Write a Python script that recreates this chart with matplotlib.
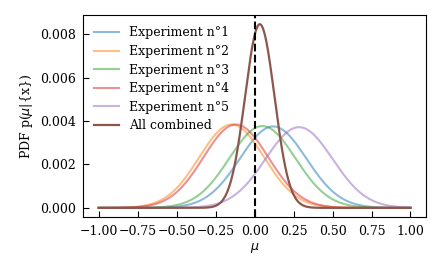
import numpy as np
import matplotlib
matplotlib.use("Agg")
import matplotlib.pyplot as plt

plt.rcParams['font.family'] = 'DejaVu Serif'
plt.rcParams['font.size'] = 9

# posterior of each experiment (centre and width of each bump)
labels = ["Experiment n°1", "Experiment n°2", "Experiment n°3",
          "Experiment n°4", "Experiment n°5"]
centres = [0.119, -0.147, 0.05, -0.12, 0.285]
widths = [0.213, 0.208, 0.212, 0.208, 0.215]
colors = ["tab:blue", "tab:orange", "tab:green", "tab:red", "tab:purple"]

mu = np.linspace(-1, 1, 1000)


def posterior(c, w):
    p = np.exp(-0.5 * ((mu - c) / w) ** 2)
    return p / p.sum()


fig = plt.figure(figsize=(4.42, 2.73), dpi=100)
ax = fig.add_axes([0.188, 0.205, 0.776, 0.74])

combined = np.ones_like(mu)
for lab, c, w, col in zip(labels, centres, widths, colors):
    p = posterior(c, w)
    combined *= p
    ax.plot(mu, p, color=col, alpha=0.5, lw=1.5, label=lab)

# product of the five posteriors
combined /= combined.sum()
ax.plot(mu, combined, color="tab:brown", lw=1.6, label="All combined")
ax.axvline(0, color="black", ls="--", lw=1.5)

ax.set_xticks(np.arange(-1, 1.01, 0.25))
ax.tick_params(direction="in", length=4.5)
ax.tick_params(axis="x", pad=6)
ax.tick_params(axis="y", pad=5)
ax.set_xlabel(r"$\mu$", labelpad=2)
ax.set_ylabel(r"PDF p($\mu$|{x})")
ax.legend(loc="upper left", frameon=False, labelspacing=0.45)

fig.savefig("out.png", dpi=100)
